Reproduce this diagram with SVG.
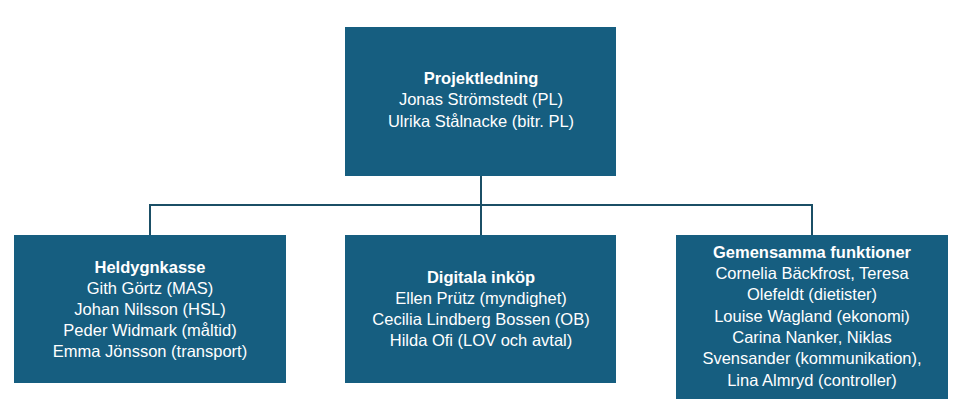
<svg xmlns="http://www.w3.org/2000/svg" width="961" height="406" viewBox="0 0 961 406">
<style>
.box{fill:#165e80}
text{font-family:"Liberation Sans",Arial,sans-serif;font-size:16.5px;fill:#fff;text-anchor:middle}
.b{font-weight:bold}
.c{stroke:#1b4f66;stroke-width:2;fill:none}
</style>
<rect width="961" height="406" fill="#fff"/>
<g id="connectors">
<path class="c" d="M481 176V205M150 235V205H812V235M481 205V235"/>
</g>
<g id="projektledning">
<rect class="box" x="345" y="27" width="271" height="149"/>
<text x="481" y="84" class="b">Projektledning</text>
<text x="481" y="105">Jonas Strömstedt (PL)</text>
<text x="481" y="127">Ulrika Stålnacke (bitr. PL)</text>
</g>
<g id="heldygnkasse">
<rect class="box" x="14" y="235" width="272" height="148"/>
<text x="150" y="273" class="b">Heldygnkasse</text>
<text x="150" y="294">Gith Görtz (MAS)</text>
<text x="150" y="315">Johan Nilsson (HSL)</text>
<text x="150" y="336">Peder Widmark (måltid)</text>
<text x="150" y="357">Emma Jönsson (transport)</text>
</g>
<g id="digitala">
<rect class="box" x="345" y="235" width="271" height="148"/>
<text x="481" y="283" class="b">Digitala inköp</text>
<text x="481" y="304">Ellen Prütz (myndighet)</text>
<text x="481" y="325">Cecilia Lindberg Bossen (OB)</text>
<text x="481" y="346">Hilda Ofi (LOV och avtal)</text>
</g>
<g id="gemensamma">
<rect class="box" x="676" y="235" width="272" height="164"/>
<text x="812" y="258" class="b">Gemensamma funktioner</text>
<text x="812" y="279">Cornelia Bäckfrost, Teresa</text>
<text x="812" y="300">Olefeldt (dietister)</text>
<text x="812" y="322">Louise Wagland (ekonomi)</text>
<text x="812" y="343">Carina Nanker, Niklas</text>
<text x="812" y="364">Svensander (kommunikation),</text>
<text x="812" y="386">Lina Almryd (controller)</text>
</g>
</svg>
